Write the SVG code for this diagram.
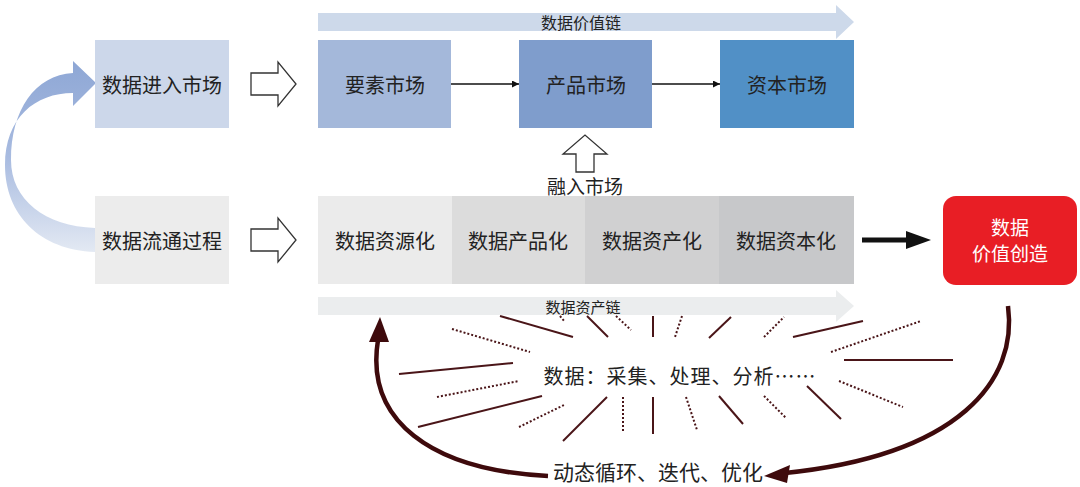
<svg xmlns="http://www.w3.org/2000/svg" width="1080" height="487" viewBox="0 0 1080 487">
<defs>
<style>
text{font-family:"Noto Sans CJK SC","Liberation Serif",serif;fill:#222;text-anchor:middle;dominant-baseline:central}
.t20{font-size:20px}
.t16{font-size:15px}
.hollow{fill:#fff;stroke:#333;stroke-width:1.3}
.ray{stroke:#4a1518;stroke-width:2;fill:none}
.dot{stroke:#4a1518;stroke-width:2;fill:none;stroke-dasharray:2 2}
.loop{stroke:#3e0a0c;stroke-width:4.5;fill:none}
</style>
<linearGradient id="blueg" x1="0" y1="0" x2="0" y2="1">
<stop offset="0" stop-color="#8ea7d5"/>
<stop offset="0.5" stop-color="#a8bbe0"/>
<stop offset="1" stop-color="#e3e9f3"/>
</linearGradient>
<marker id="ah" viewBox="0 0 10 10" refX="10" refY="5" markerWidth="7" markerHeight="7" orient="auto" markerUnits="userSpaceOnUse">
<path d="M0,0 L10,5 L0,10 Z" fill="#111"/>
</marker>
</defs>
<rect width="1080" height="487" fill="#fff"/>

<!-- bands -->
<g id="value-chain">
<path d="M318,13 H836 V5 L854,22 L836,39 V31 H318 Z" fill="#cdd9ea"/>
<text x="581" y="22" class="t16" style="font-size:16px">数据价值链</text>
</g>
<g id="asset-chain">
<path d="M318,297 H836 V290 L854,306 L836,322 V315 H318 Z" fill="#ebedee"/>
<text x="583" y="306" class="t16">数据资产链</text>
</g>

<!-- blue curved arrow -->
<g id="loop-arrow">
<path d="M95,252 C40,250 5,215 5,165 C5,118 35,93 73,93 L73,106 L96,83 L73,61 L73,73 C35,75 11,110 11,160 C11,200 45,226 95,228 Z" fill="url(#blueg)"/>
</g>

<!-- nodes -->
<g id="n-enter"><rect x="95" y="40" width="134" height="88" fill="#ccd7ea"/><text x="162" y="84" class="t20">数据进入市场</text></g>
<g id="n-flow"><rect x="95" y="196" width="134" height="88" fill="#ececec"/><text x="162" y="240" class="t20">数据流通过程</text></g>
<g id="n-factor"><rect x="318" y="40" width="133" height="88" fill="#a4b8da"/><text x="385" y="84" class="t20">要素市场</text></g>
<g id="n-product"><rect x="519" y="40" width="133" height="88" fill="#7f9dcc"/><text x="586" y="84" class="t20">产品市场</text></g>
<g id="n-capital"><rect x="720" y="40" width="134" height="88" fill="#5190c6"/><text x="787" y="84" class="t20">资本市场</text></g>
<g id="n-res"><rect x="318" y="196" width="134" height="88" fill="#ebebeb"/><text x="385" y="240" class="t20">数据资源化</text></g>
<g id="n-prod"><rect x="452" y="196" width="133" height="88" fill="#dcdcdc"/><text x="518" y="240" class="t20">数据产品化</text></g>
<g id="n-asset"><rect x="585" y="196" width="134" height="88" fill="#d0d0d1"/><text x="652" y="240" class="t20">数据资产化</text></g>
<g id="n-cap"><rect x="719" y="196" width="135" height="88" fill="#c7c8ca"/><text x="786" y="240" class="t20">数据资本化</text></g>
<g id="n-value"><rect x="943" y="196" width="134" height="89" rx="13" fill="#e81e25"/>
<text x="1010" y="226" style="font-size:19px;fill:#fff">数据</text>
<text x="1010" y="252" style="font-size:19px;fill:#fff">价值创造</text></g>

<!-- connectors -->
<g id="connectors">
<line x1="451" y1="84" x2="519" y2="84" stroke="#111" stroke-width="1.5" marker-end="url(#ah)"/>
<line x1="652" y1="84" x2="720" y2="84" stroke="#111" stroke-width="1.5" marker-end="url(#ah)"/>
<path class="hollow" d="M251,73 H278 V62 L296,84 L278,106 V95 H251 Z"/>
<path class="hollow" d="M251,229 H278 V218 L296,240 L278,262 V251 H251 Z"/>
<path class="hollow" d="M576,172 V154 H563 L585,135 L607,154 H594 V172 Z"/>
<line x1="862" y1="240" x2="908" y2="240" stroke="#111" stroke-width="5"/>
<path d="M906,231 L931,240 L906,249 Z" fill="#111"/>
<path class="loop" d="M1008,306 C1018,380 960,455 785,473"/>
<path d="M764,476 L790,465 L787,483 Z" fill="#3e0a0c"/>
<path class="loop" d="M548,476 C430,470 365,420 378,340"/>
<path d="M380,317 L369,342 L389,342 Z" fill="#3e0a0c"/>
</g>
<text x="585" y="185" class="t20" style="font-size:19px">融入市场</text>

<!-- rays -->
<g id="rays">
<line class="ray" x1="500" y1="316" x2="573" y2="337"/>
<line class="dot" x1="560" y1="316" x2="565" y2="322"/>
<line class="ray" x1="587" y1="316" x2="608" y2="337"/>
<line class="dot" x1="616" y1="316" x2="631" y2="330"/>
<line class="ray" x1="653" y1="316" x2="653" y2="337"/>
<line class="dot" x1="682" y1="316" x2="675" y2="337"/>
<line class="dot" x1="452" y1="329" x2="530" y2="352"/>
<line class="ray" x1="399" y1="374" x2="513" y2="363"/>
<line class="dot" x1="437" y1="397" x2="519" y2="381"/>
<line class="ray" x1="418" y1="427" x2="542" y2="396"/>
<line class="dot" x1="519" y1="427" x2="564" y2="405"/>
<line class="ray" x1="563" y1="441" x2="607" y2="397"/>
<line class="dot" x1="623" y1="397" x2="623" y2="432"/>
<line class="ray" x1="653" y1="397" x2="653" y2="434"/>
<line class="dot" x1="686" y1="397" x2="697" y2="430"/>
<line class="ray" x1="709" y1="338" x2="731" y2="317"/>
<line class="dot" x1="764" y1="337" x2="784" y2="317"/>
<line class="ray" x1="793" y1="337" x2="863" y2="321"/>
<line class="dot" x1="831" y1="352" x2="921" y2="321"/>
<line class="ray" x1="844" y1="360" x2="953" y2="360"/>
<line class="dot" x1="839" y1="381" x2="903" y2="407"/>
<line class="ray" x1="807" y1="386" x2="841" y2="419"/>
<line class="dot" x1="764" y1="396" x2="786" y2="418"/>
<line class="ray" x1="719" y1="396" x2="743" y2="424"/>
</g>
<text x="680" y="375" style="font-size:20px;letter-spacing:1px">数据：采集、处理、分析……</text>
<text x="658" y="471" style="font-size:21px">动态循环、迭代、优化</text>
</svg>
